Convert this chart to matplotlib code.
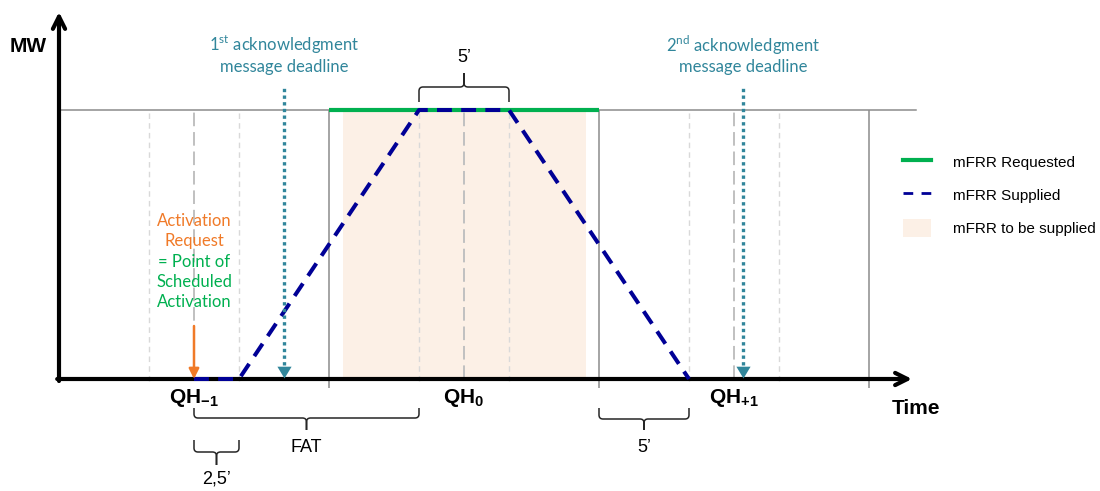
import matplotlib
matplotlib.use("Agg")
import matplotlib.pyplot as plt
from matplotlib.path import Path
from matplotlib.patches import PathPatch, Patch
from matplotlib.lines import Line2D

plt.rcParams["font.family"] = ["Liberation Sans", "DejaVu Sans"]
plt.rcParams["mathtext.fontset"] = "custom"
plt.rcParams["mathtext.rm"] = "Lato"
plt.rcParams["mathtext.bf"] = "Liberation Sans:bold"

# time in minutes (QH0 starts at 0), power relative to the requested level
qh_bounds = [0, 15, 30]
qh_centers = [-7.5, 7.5, 22.5]
qh_labels = [r"$\mathbf{QH}_{\mathbf{-1}}$", r"$\mathbf{QH}_{\mathbf{0}}$", r"$\mathbf{QH}_{\mathbf{+1}}$"]
sub_steps = [-10, -5, 5, 10, 20, 25]

requested_t = [0, 15]
requested_mw = [1, 1]
supplied_t = [-7.5, -5, 5, 10, 20]
supplied_mw = [0, 0, 1, 1, 0]
to_be_supplied = [0.75, 14.25]

activation_t = -7.5
ack_t = [-2.5, 23]
ack_line1 = [r"1$^{\rm st}$ acknowledgment", r"2$^{\rm nd}$ acknowledgment"]
ack_line2 = "message deadline"

GREEN = "#00B050"
NAVY = "#000096"
BEIGE = "#FCF0E6"
TEAL = "#31869B"
ORANGE = "#F07A28"
GRAY = "#8C8C8C"

PX_T = 18.0     # pixels per minute
PX_MW = 269.0   # pixels per MW unit


def brace(ax, x0, x1, y, leg, tip, up=True):
    s = 1 if up else -1
    xm = (x0 + x1) / 2
    rx, ry = 4 / PX_T, 4 / PX_MW
    yh = y + s * leg
    verts, codes = [], []
    for xe, d in ((x0, 1), (x1, -1)):
        verts += [(xe, y), (xe, yh - s * ry), (xe, yh), (xe + d * rx, yh),
                  (xm - d * rx, yh), (xm, yh), (xm, yh + s * ry), (xm, yh + s * tip)]
        codes += [Path.MOVETO, Path.LINETO, Path.CURVE3, Path.CURVE3,
                  Path.LINETO, Path.CURVE3, Path.CURVE3, Path.LINETO]
    ax.add_patch(PathPatch(Path(verts, codes), fill=False, lw=1.1, edgecolor="#262626", zorder=3))


fig = plt.figure(figsize=(11, 4.91), dpi=100)
ax = fig.add_axes([0, 0, 1, 1])
ax.set_xlim(-329 / PX_T, (1100 - 329) / PX_T)
ax.set_ylim(-(491 - 379) / PX_MW, 379 / PX_MW)
ax.axis("off")

t_axis0 = -15
t_axis1 = (912 - 329) / PX_T

# background grid of the quarter hours
ax.fill_between(to_be_supplied, 0, 1, color=BEIGE, lw=0, zorder=1)
ax.plot([t_axis0, t_axis1 + 0.2], [1, 1], color=GRAY, lw=1.1, zorder=2)
ax.vlines(qh_bounds, -9 / PX_MW, 1, color=GRAY, lw=1.1, zorder=2)
ax.vlines(sub_steps, -2 / PX_MW, 1, color="#D9D9D9", lw=1.0, linestyles=(0, (4, 3)), zorder=2)
ax.vlines(qh_centers, 0, 1, color="#C0C0C0", lw=1.4, linestyles=(0, (7, 3)), zorder=2)

# axes with arrows
arrow = dict(arrowstyle="->", lw=3, color="black", mutation_scale=22, shrinkA=0, shrinkB=0)
ax.annotate("", xy=(t_axis1, 0), xytext=(t_axis0 - 0.1, 0), arrowprops=arrow, zorder=3)
ax.annotate("", xy=(t_axis0, 367 / PX_MW), xytext=(t_axis0, -2 / PX_MW), arrowprops=arrow, zorder=3)
ax.text(-31 / PX_T + t_axis0, 332 / PX_MW, "MW", fontsize=15, fontweight="bold", ha="center", va="center")
ax.text(t_axis1 + 0.2, -29 / PX_MW, "Time", fontsize=15, fontweight="bold", ha="center", va="center")
for tc, lab in zip(qh_centers, qh_labels):
    ax.text(tc, -24 / PX_MW, lab, fontsize=15, ha="center", va="baseline")

# power curves
ax.plot(requested_t, requested_mw, color=GREEN, lw=3, solid_capstyle="butt", zorder=4)
ax.plot(supplied_t, supplied_mw, color=NAVY, lw=2.9, ls=(0, (3.7, 2.3)), zorder=5)

# acknowledgment deadlines
tri = Path([(-0.6, 1), (0.6, 1), (0, 0), (-0.6, 1)])
for tx, l1 in zip(ack_t, ack_line1):
    ax.plot([tx, tx], [14 / PX_MW, 291 / PX_MW], color=TEAL, lw=2.4,
            ls=(0, (1, 1)), dash_capstyle="butt", zorder=6)
    ax.plot([tx], [1 / PX_MW], marker=tri, markersize=17, color=TEAL, mew=0, zorder=6)
    ax.text(tx, 334 / PX_MW, l1, fontsize=12, family="Lato", color=TEAL, ha="center", va="center")
    ax.text(tx, 312 / PX_MW, ack_line2, fontsize=12, family="Lato", color=TEAL, ha="center", va="center")

# activation request
ax.annotate("", xy=(activation_t, 0), xytext=(activation_t, 53 / PX_MW),
            arrowprops=dict(arrowstyle="-|>", lw=1.8, color=ORANGE, mutation_scale=15,
                            shrinkA=0, shrinkB=0), zorder=6)
ax.text(activation_t, 148 / PX_MW, "Activation\nRequest", fontsize=12, family="Lato",
        color=ORANGE, ha="center", va="center", linespacing=1.28)
ax.text(activation_t, 97 / PX_MW, "= Point of\nScheduled\nActivation", fontsize=12, family="Lato",
        color=GREEN, ha="center", va="center", linespacing=1.28)

# braces
brace(ax, 5, 10, 1 + 8 / PX_MW, 15 / PX_MW, 14 / PX_MW, up=True)
ax.text(7.5, 321 / PX_MW, "5’", fontsize=13, ha="center", va="center")
brace(ax, -7.5, 5, -29 / PX_MW, 10 / PX_MW, 12 / PX_MW, up=False)
ax.text(-1.25, -69 / PX_MW, "FAT", fontsize=13, ha="center", va="center")
brace(ax, -7.5, -5, -61 / PX_MW, 12 / PX_MW, 13 / PX_MW, up=False)
ax.text(-6.25, -100 / PX_MW, "2,5’", fontsize=13, ha="center", va="center")
brace(ax, 15, 20, -29 / PX_MW, 11 / PX_MW, 11 / PX_MW, up=False)
ax.text(17.5, -68 / PX_MW, "5’", fontsize=13, ha="center", va="center")

# legend
handles = [Line2D([], [], color=GREEN, lw=3),
           Line2D([], [], color=NAVY, lw=2, ls=(0, (3.5, 3))),
           Patch(facecolor=BEIGE, edgecolor="none")]
labels = ["mFRR Requested", "mFRR Supplied", "mFRR to be supplied"]
ax.legend(handles, labels, loc="upper left", bbox_to_anchor=(903 / 1100, 1 - 153 / 491),
          bbox_transform=fig.transFigure, frameon=False, borderpad=0, borderaxespad=0,
          handlelength=1.83, handleheight=1.4, handletextpad=1.44, labelspacing=1.02, fontsize=11)

fig.savefig("out.png", dpi=100)
